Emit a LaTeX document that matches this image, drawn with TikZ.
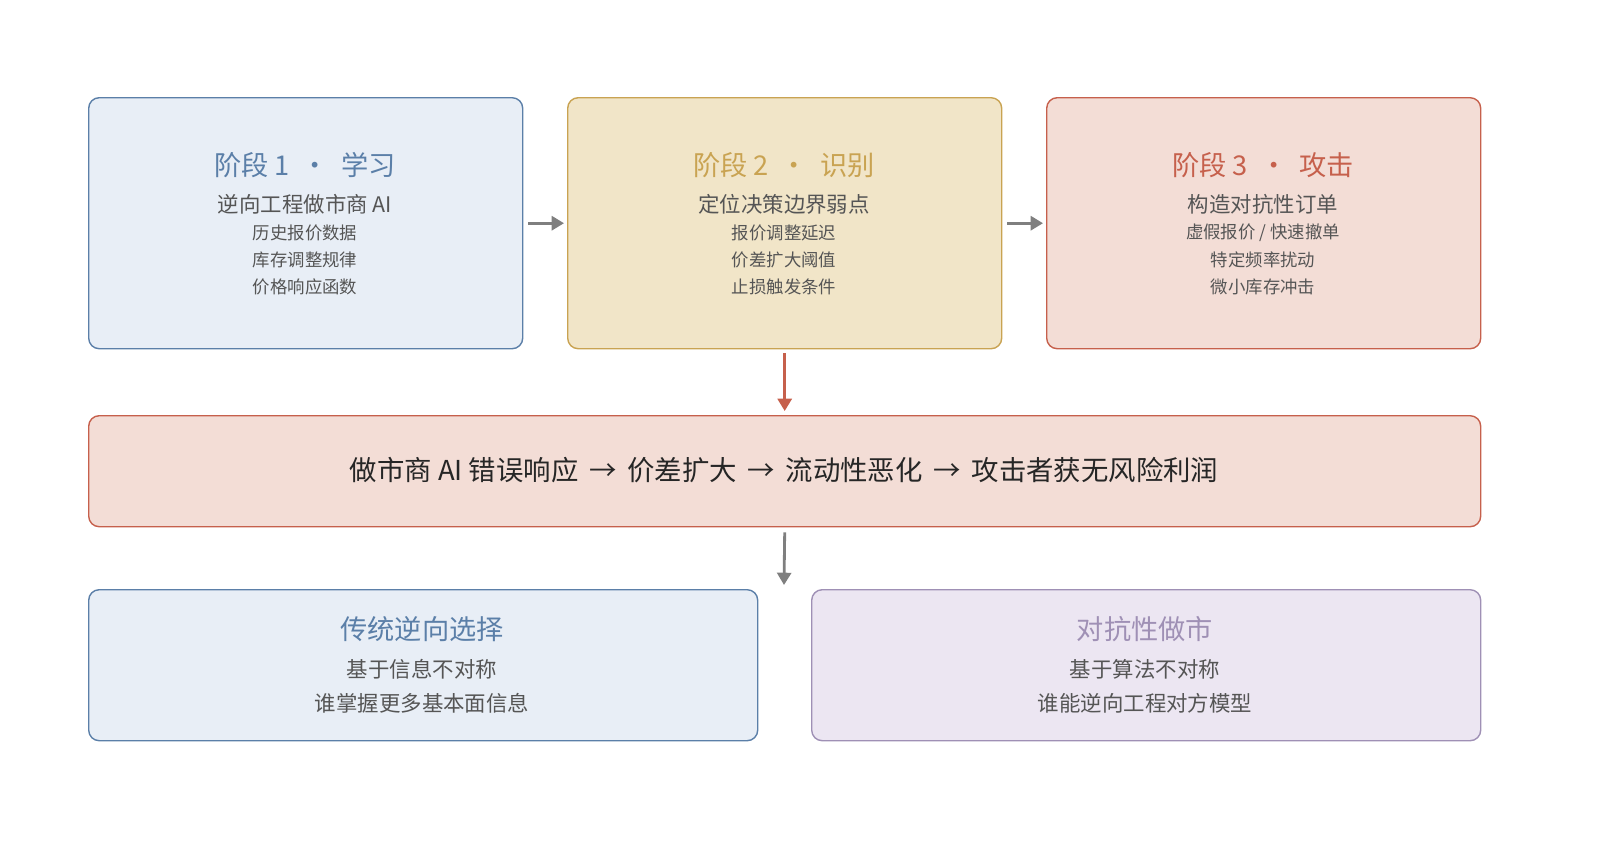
\documentclass[tikz,border=0pt]{standalone}
\usepackage{fontspec}
\setmainfont{Noto Sans CJK SC}
\usetikzlibrary{arrows.meta, positioning}
\definecolor{CBlueFill}{HTML}{E8EEF6}
\definecolor{CBlue}{HTML}{5B7FA8}
\definecolor{CGoldFill}{HTML}{F1E5C8}
\definecolor{CGold}{HTML}{C9A352}
\definecolor{CRedFill}{HTML}{F3DDD6}
\definecolor{CRed}{HTML}{C6604C}
\definecolor{CPurpleFill}{HTML}{ECE6F2}
\definecolor{CPurple}{HTML}{9F90B5}
\definecolor{CText}{HTML}{555555}
\definecolor{CArrow}{HTML}{7F7F7F}
\tikzset{
    box/.style={draw=#1, line width=0.8pt, rounded corners=6pt, anchor=north west},
    title/.style={font=\fontsize{15.5}{17}\selectfont, text=#1},
    sub/.style={font=\fontsize{12.2}{14}\selectfont, text=CText},
    item/.style={font=\fontsize{9.9}{12}\selectfont, text=CText},
    flow/.style={-{Triangle[length=7pt,width=8pt]}, line width=1.6pt, draw=#1},
}
\begin{document}
\begin{tikzpicture}[x=0.02cm, y=-0.02cm]
    \useasboundingbox (0,0) rectangle (1600,849);

    % --- stage boxes ---
    \node[box=CBlue, fill=CBlueFill, minimum width=434*0.02cm, minimum height=251*0.02cm] (s1) at (88,97) {};
    \node[box=CGold, fill=CGoldFill, minimum width=434*0.02cm, minimum height=251*0.02cm] (s2) at (567,97) {};
    \node[box=CRed, fill=CRedFill, minimum width=434*0.02cm, minimum height=251*0.02cm] (s3) at (1046,97) {};

    \node[title=CBlue] (t1) at (305,165) {阶段 1 \ · \ 学习};
    \node[sub] (u1) at (305,204) {逆向工程做市商 AI};
    \node[item] at (305,233) {历史报价数据};
    \node[item] at (305,260) {库存调整规律};
    \node[item] at (305,287) {价格响应函数};

    \node[title=CGold] (t2) at (784,165) {阶段 2 \ · \ 识别};
    \node[sub] (u2) at (784,204) {定位决策边界弱点};
    \node[item] at (784,233) {报价调整延迟};
    \node[item] at (784,260) {价差扩大阈值};
    \node[item] at (784,287) {止损触发条件};

    \node[title=CRed] (t3) at (1263,165) {阶段 3 \ · \ 攻击};
    \node[sub] (u3) at (1263,204) {构造对抗性订单};
    \node[item] at (1263,233) {虚假报价 / 快速撤单};
    \node[item] at (1263,260) {特定频率扰动};
    \node[item] at (1263,287) {微小库存冲击};

    % --- result ---
    \node[box=CRed, fill=CRedFill, minimum width=1392*0.02cm, minimum height=111*0.02cm] (res) at (88,415) {};
    \node[font=\fontsize{15.6}{17}\selectfont, text=black!85] (rt) at (784,470)
        {做市商 AI 错误响应 \,→\, 价差扩大 \,→\, 流动性恶化 \,→\, 攻击者获无风险利润};

    % --- comparison ---
    \node[box=CBlue, fill=CBlueFill, minimum width=669*0.02cm, minimum height=151*0.02cm] (c1) at (88,589) {};
    \node[box=CPurple, fill=CPurpleFill, minimum width=669*0.02cm, minimum height=151*0.02cm] (c2) at (811,589) {};

    \node[title=CBlue] at (422,629) {传统逆向选择};
    \node[sub] at (422,669) {基于信息不对称};
    \node[sub] at (422,703) {谁掌握更多基本面信息};

    \node[title=CPurple] at (1145,629) {对抗性做市};
    \node[sub] at (1145,669) {基于算法不对称};
    \node[sub] at (1145,703) {谁能逆向工程对方模型};

    % --- arrows ---
    \draw[flow=CArrow] ([xshift=5*0.02cm]s1.east) -- ([xshift=-3*0.02cm]s2.west);
    \draw[flow=CArrow] ([xshift=5*0.02cm]s2.east) -- ([xshift=-3*0.02cm]s3.west);
    \draw[flow=CRed] ([yshift=-4*0.02cm]s2.south) -- ([yshift=4*0.02cm]res.north);
    \draw[flow=CArrow] ([yshift=-5*0.02cm]res.south) -- (784,585);
\end{tikzpicture}
\end{document}
